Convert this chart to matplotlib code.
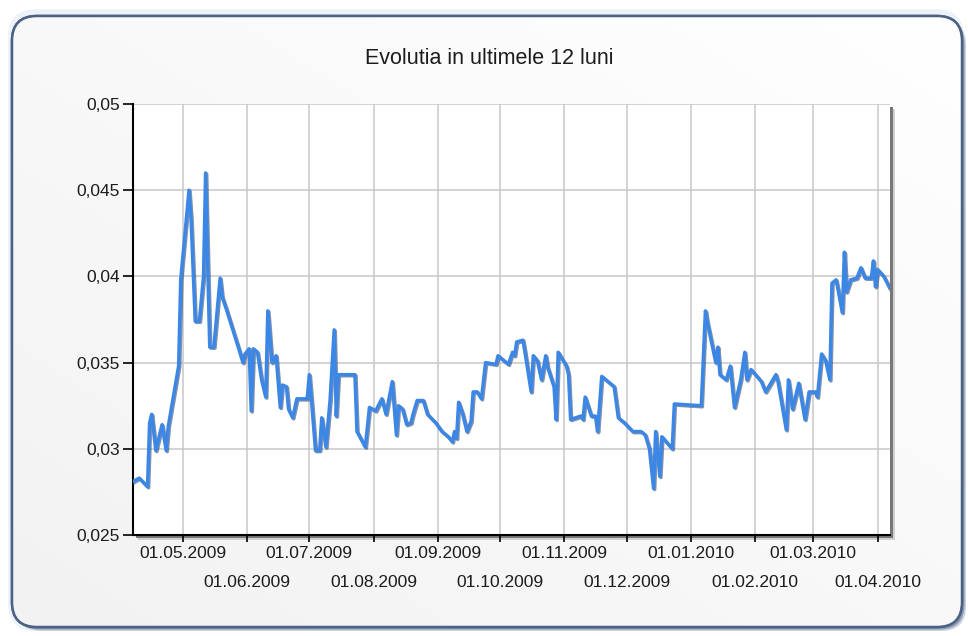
import numpy as np
import matplotlib.pyplot as plt
import matplotlib.dates as mdates
import matplotlib.patheffects as pe
from matplotlib.patches import FancyBboxPatch, Rectangle
from matplotlib.colors import LinearSegmentedColormap
from datetime import datetime

W, H = 968, 636

title = 'Evolutia in ultimele 12 luni'

dates = [
    '2009-04-07', '2009-04-10', '2009-04-14', '2009-04-15', '2009-04-16', '2009-04-18',
    '2009-04-21', '2009-04-23', '2009-04-24', '2009-04-29', '2009-04-30', '2009-05-04',
    '2009-05-05', '2009-05-07', '2009-05-09', '2009-05-11', '2009-05-12', '2009-05-13',
    '2009-05-14', '2009-05-16', '2009-05-19', '2009-05-20', '2009-05-22', '2009-05-28',
    '2009-05-30', '2009-05-31', '2009-06-02', '2009-06-03', '2009-06-04', '2009-06-06',
    '2009-06-08', '2009-06-10', '2009-06-11', '2009-06-13', '2009-06-15', '2009-06-17',
    '2009-06-18', '2009-06-20', '2009-06-21', '2009-06-23', '2009-06-25', '2009-06-30',
    '2009-07-01', '2009-07-02', '2009-07-04', '2009-07-06', '2009-07-07', '2009-07-09',
    '2009-07-11', '2009-07-13', '2009-07-14', '2009-07-15', '2009-07-23', '2009-07-24',
    '2009-07-28', '2009-07-30', '2009-08-02', '2009-08-05', '2009-08-07', '2009-08-10',
    '2009-08-12', '2009-08-13', '2009-08-15', '2009-08-17', '2009-08-19', '2009-08-20',
    '2009-08-22', '2009-08-25', '2009-08-27', '2009-08-31', '2009-09-03', '2009-09-06',
    '2009-09-08', '2009-09-09', '2009-09-10', '2009-09-11', '2009-09-13', '2009-09-15',
    '2009-09-17', '2009-09-18', '2009-09-20', '2009-09-22', '2009-09-24', '2009-09-29',
    '2009-09-30', '2009-10-03', '2009-10-05', '2009-10-07', '2009-10-08', '2009-10-09',
    '2009-10-12', '2009-10-13', '2009-10-16', '2009-10-17', '2009-10-19', '2009-10-21',
    '2009-10-23', '2009-10-24', '2009-10-27', '2009-10-28', '2009-10-29', '2009-11-02',
    '2009-11-03', '2009-11-04', '2009-11-09', '2009-11-10', '2009-11-11', '2009-11-14',
    '2009-11-16', '2009-11-17', '2009-11-19', '2009-11-25', '2009-11-27', '2009-11-30',
    '2009-12-04', '2009-12-08', '2009-12-10', '2009-12-12', '2009-12-14', '2009-12-15',
    '2009-12-17', '2009-12-18', '2009-12-23', '2009-12-24', '2010-01-06', '2010-01-08',
    '2010-01-09', '2010-01-13', '2010-01-14', '2010-01-15', '2010-01-18', '2010-01-20',
    '2010-01-22', '2010-01-25', '2010-01-27', '2010-01-28', '2010-01-30', '2010-02-04',
    '2010-02-06', '2010-02-09', '2010-02-11', '2010-02-12', '2010-02-16', '2010-02-17',
    '2010-02-19', '2010-02-22', '2010-02-25', '2010-02-27', '2010-03-02', '2010-03-03',
    '2010-03-05', '2010-03-07', '2010-03-09', '2010-03-10', '2010-03-12', '2010-03-13',
    '2010-03-15', '2010-03-16', '2010-03-17', '2010-03-19', '2010-03-22', '2010-03-24',
    '2010-03-26', '2010-03-29', '2010-03-30', '2010-03-31', '2010-04-01', '2010-04-04',
    '2010-04-07',
]

values = [
    0.0281, 0.0283, 0.0278, 0.0315, 0.0320, 0.0299,
    0.0314, 0.0299, 0.0313, 0.0348, 0.0398, 0.0450,
    0.0433, 0.0374, 0.0374, 0.0400, 0.0460, 0.0408,
    0.0359, 0.0359, 0.0399, 0.0388, 0.0381, 0.0358,
    0.0350, 0.0355, 0.0358, 0.0322, 0.0358, 0.0356,
    0.0340, 0.0330, 0.0380, 0.0350, 0.0354, 0.0324,
    0.0337, 0.0336, 0.0323, 0.0318, 0.0329, 0.0329,
    0.0343, 0.0329, 0.0299, 0.0299, 0.0318, 0.0301,
    0.0328, 0.0369, 0.0319, 0.0343, 0.0343, 0.0310,
    0.0301, 0.0324, 0.0322, 0.0329, 0.0320, 0.0339,
    0.0308, 0.0325, 0.0323, 0.0314, 0.0315, 0.0320,
    0.0328, 0.0328, 0.0320, 0.0315, 0.0310, 0.0307,
    0.0304, 0.0310, 0.0306, 0.0327, 0.0320, 0.0310,
    0.0316, 0.0333, 0.0333, 0.0329, 0.0350, 0.0349,
    0.0354, 0.0351, 0.0349, 0.0356, 0.0354, 0.0362,
    0.0363, 0.0356, 0.0333, 0.0354, 0.0351, 0.0340,
    0.0354, 0.0347, 0.0336, 0.0317, 0.0356, 0.0348,
    0.0343, 0.0317, 0.0319, 0.0317, 0.0330, 0.0319,
    0.0319, 0.0310, 0.0342, 0.0336, 0.0318, 0.0315,
    0.0310, 0.0310, 0.0308, 0.0300, 0.0277, 0.0310,
    0.0284, 0.0307, 0.0300, 0.0326, 0.0325, 0.0380,
    0.0373, 0.0350, 0.0359, 0.0343, 0.0340, 0.0348,
    0.0324, 0.0340, 0.0356, 0.0340, 0.0346, 0.0339,
    0.0333, 0.0339, 0.0343, 0.0339, 0.0311, 0.0340,
    0.0323, 0.0338, 0.0317, 0.0333, 0.0333, 0.0330,
    0.0355, 0.0351, 0.0340, 0.0396, 0.0398, 0.0392,
    0.0379, 0.0414, 0.0391, 0.0398, 0.0399, 0.0405,
    0.0399, 0.0399, 0.0409, 0.0394, 0.0404, 0.0400,
    0.0393,
]

y_ticks = [0.025, 0.03, 0.035, 0.04, 0.045, 0.05]
y_tick_labels = ['0,025', '0,03', '0,035', '0,04', '0,045', '0,05']

plt.rcParams['font.family'] = ['Liberation Sans', 'DejaVu Sans']
text_color = '#1c1c1c'

fig = plt.figure(figsize=(W / 100, H / 100), dpi=100, facecolor='white')

# background layer in pixel units (y from the bottom)
bg = fig.add_axes([0, 0, 1, 1])
bg.set_xlim(0, W)
bg.set_ylim(0, H)
bg.axis('off')

# soft glow round the panel
bg.add_patch(FancyBboxPatch((8 + 28, 5 + 28), W - 12 - 56, H - 14 - 56,
                            boxstyle='round,pad=28', fc='#edf3f9', ec='none'))

# panel shadow, then panel
r = 25
px0, py0, pw, ph = 12, H - 627, 950, 611
for off, col in [(4, '#c9d1dc'), (2.5, '#8f9cb0')]:
    bg.add_patch(FancyBboxPatch((px0 + r + off, py0 + r - off), pw - 2 * r, ph - 2 * r,
                                boxstyle=f'round,pad={r}', fc=col, ec='none'))
panel = FancyBboxPatch((px0 + r, py0 + r), pw - 2 * r, ph - 2 * r,
                       boxstyle=f'round,pad={r}', fc='#f7f7f7', ec='#4c6285', lw=1.8, zorder=3)
bg.add_patch(panel)

# diagonal gradient inside panel
gx, gy = np.meshgrid(np.linspace(0, 1, 200), np.linspace(0, 1, 200))
grad = (gx + (1 - gy)) / 2
cmap = LinearSegmentedColormap.from_list('panel', ['#f2f2f2', '#ffffff'])
im = bg.imshow(grad, extent=(px0, px0 + pw, py0, py0 + ph), origin='upper',
               cmap=cmap, aspect='auto', zorder=3.5)
im.set_clip_path(panel)
bg.add_patch(FancyBboxPatch((px0 + r, py0 + r), pw - 2 * r, ph - 2 * r,
                            boxstyle=f'round,pad={r}', fc='none', ec='#4c6285', lw=1.8, zorder=4))
bg.set_xlim(0, W)
bg.set_ylim(0, H)

# plot area shadow
left, right, top, bottom = 133, 890, 104, 535
for off, col in [(5, '#d0d0d0'), (3, '#777777')]:
    bg.add_patch(Rectangle((left + off, H - bottom - off), right - left, bottom - top,
                           fc=col, ec='none', zorder=5))

fig.text(489 / W, 1 - 58 / H, title, ha='center', va='center', fontsize=15.5, color=text_color)

ax = fig.add_axes([left / W, 1 - bottom / H, (right - left) / W, (bottom - top) / H])
ax.set_facecolor('white')

x = [datetime.strptime(d, '%Y-%m-%d') for d in dates]
ax.plot(x, values, color='#3c87e6', lw=2.5, solid_joinstyle='round', zorder=3,
        path_effects=[pe.SimpleLineShadow(offset=(0.8, -0.8), shadow_color='#1b3a66', alpha=0.55),
                      pe.Normal()])

ax.set_xlim(x[0], x[-1])
ax.set_ylim(0.025, 0.05)
ax.set_yticks(y_ticks)
ax.set_yticklabels(y_tick_labels)

ax.xaxis.set_major_locator(mdates.MonthLocator(bymonth=[1, 3, 5, 7, 9, 11]))
ax.xaxis.set_minor_locator(mdates.MonthLocator(bymonth=[2, 4, 6, 8, 10, 12]))
ax.xaxis.set_major_formatter(mdates.DateFormatter('%d.%m.%Y'))
ax.xaxis.set_minor_formatter(mdates.DateFormatter('%d.%m.%Y'))

ax.grid(True, which='both', color='#c8c8c8', lw=1.1, zorder=0)
ax.set_axisbelow(True)

ax.tick_params(axis='y', length=7, width=1.2, color='black', pad=2.5,
               labelsize=12.5, labelcolor=text_color)
ax.tick_params(axis='x', which='both', length=5, width=1.2, color='black',
               labelsize=12.5, labelcolor=text_color)
ax.tick_params(axis='x', which='major', pad=3)
ax.tick_params(axis='x', which='minor', pad=24)

for s in ['top', 'right']:
    ax.spines[s].set_visible(False)
for s in ['left', 'bottom']:
    ax.spines[s].set_color('black')
    ax.spines[s].set_linewidth(1.5)

fig.savefig('out.png', dpi=100, facecolor='white')
